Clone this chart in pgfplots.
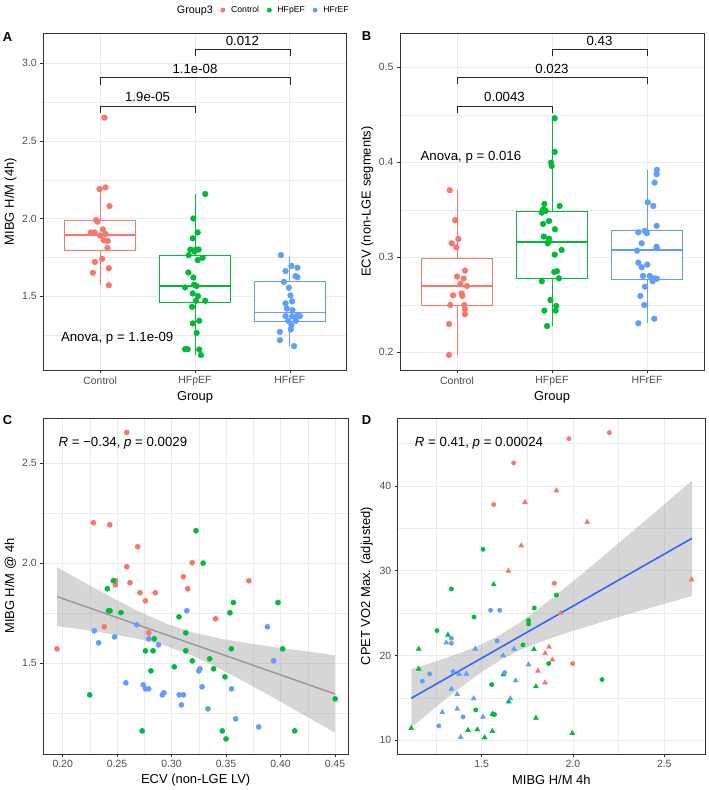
\documentclass[border=0pt]{standalone}
\usepackage{pgfplots}
\pgfplotsset{compat=1.18}
\usepgfplotslibrary{statistics}
\usepackage{fontspec}
\setmainfont{Liberation Sans}
\definecolor{cR}{HTML}{F8766D}
\definecolor{cG}{HTML}{00BA38}
\definecolor{cB}{HTML}{619CFF}
\definecolor{gridc}{HTML}{EBEBEB}
\definecolor{frame}{HTML}{333333}
\definecolor{ticklab}{HTML}{4D4D4D}
\definecolor{lineD}{HTML}{3366FF}
\definecolor{bandc}{HTML}{999999}
\tikzset{ann/.style={font=\fontsize{13.3}{15}\selectfont}}
\pgfplotsset{
 gg/.style={
  scale only axis,
  axis line style={frame, line width=0.6pt},
  every tick/.style={frame, line width=0.5pt},
  major tick length=3bp,
  minor tick length=0pt,
  tick align=outside,
  xtick pos=bottom, ytick pos=left,
  grid=both,
  major grid style={gridc, line width=0.7pt},
  minor grid style={gridc, line width=0.35pt},
  ticklabel style={font=\fontsize{10.5}{12}\selectfont, text=ticklab},
  every axis y label/.style={at={(axis description cs:-0.108,0.5)}, rotate=90, anchor=center, font=\fontsize{13}{15}\selectfont},
  every axis x label/.style={at={(axis description cs:0.5,-0.08)}, anchor=center, font=\fontsize{13}{15}\selectfont},
  /pgf/number format/assume math mode=true,
 },
 bx/.style={fill=white, line width=0.8pt, boxplot/draw direction=y, boxplot/box extend=0.75, boxplot/whisker extend=0,
   boxplot/every median/.style={line width=1.6pt}},
 pA/.style={only marks, mark=*, mark size=2.9pt, color=#1},
 pC/.style={only marks, mark=*, mark size=2.6pt, color=#1},
 pDc/.style={only marks, mark=*, mark size=2.2pt, color=#1},
 pDt/.style={only marks, mark=triangle*, mark size=2.9pt, color=#1},
 br/.style={black!85, line width=0.5pt},
}
\begin{document}
\begin{tikzpicture}
\useasboundingbox (0,0) rectangle (709bp,-790bp);
% ---------------- Panel A ----------------
\begin{axis}[gg, at={(43.3bp,-370bp)}, anchor=south west, width=303.4bp, height=337bp,
  xmin=-0.6, xmax=2.6, ymin=1.024, ymax=3.195,
  xtick={0,1,2}, xticklabels={Control,HFpEF,HFrEF},
  ytick={1.5,2,2.5,3}, yticklabels={1.5,2.0,2.5,3.0},
  minor ytick={1.25,1.75,2.25,2.75},
  xlabel={Group}, ylabel={MIBG H/M (4h)},
  legend style={at={(axis description cs:0.717,1.068)}, anchor=center, draw=none, fill=none,
    legend columns=-1, font=\fontsize{8.7}{10}\selectfont,
    /tikz/every odd column/.append style={column sep=4bp},
    /tikz/every even column/.append style={column sep=6bp}},
]
\addlegendimage{empty legend}\addlegendentry{\fontsize{10.8}{12}\selectfont Group3}
\addlegendimage{only marks, mark=*, mark size=2.2pt, color=cR}\addlegendentry{Control}
\addlegendimage{only marks, mark=*, mark size=2.2pt, color=cG}\addlegendentry{HFpEF}
\addlegendimage{only marks, mark=*, mark size=2.2pt, color=cB}\addlegendentry{HFrEF}
\addplot[bx, draw=cR, boxplot prepared={draw position=0, lower whisker=1.57, lower quartile=1.792, median=1.895, upper quartile=1.986, upper whisker=2.20}] coordinates {};
\addplot[bx, draw=cG, boxplot prepared={draw position=1, lower whisker=1.12, lower quartile=1.459, median=1.567, upper quartile=1.760, upper whisker=2.158}] coordinates {};
\addplot[bx, draw=cB, boxplot prepared={draw position=2, lower whisker=1.178, lower quartile=1.339, median=1.395, upper quartile=1.592, upper whisker=1.753}] coordinates {};
\addplot[pA=cR] coordinates {(0.045,2.65) (0.056,2.20) (-0.007,2.19) (0.098,2.08) (-0.028,1.98) (-0.042,1.99) (-0.098,1.91) (-0.059,1.91) (0.028,1.93) (0.056,1.90) (0.035,1.86) (0.08,1.855) (0.077,1.81) (0.021,1.74) (-0.056,1.72) (0.091,1.68) (-0.077,1.65) (0.091,1.57) (0.0,1.89)};
\addplot[pA=cG] coordinates {(1.108,2.158) (0.983,2.0) (1.028,1.91) (0.976,1.872) (0.951,1.80) (1.01,1.80) (1.038,1.80) (0.993,1.788) (0.934,1.764) (1.08,1.747) (1.028,1.732) (0.93,1.652) (0.983,1.62) (0.895,1.556) (0.99,1.573) (1.017,1.565) (0.976,1.517) (1.031,1.50) (1.01,1.47) (1.108,1.47) (0.969,1.431) (0.976,1.324) (1.045,1.341) (1.017,1.263) (0.895,1.158) (0.923,1.158) (1.045,1.156) (1.063,1.12)};
\addplot[pA=cB] coordinates {(1.906,1.764) (2.017,1.695) (2.08,1.683) (1.955,1.661) (2.059,1.629) (2.08,1.622) (1.937,1.592) (1.99,1.554) (2.007,1.504) (2.024,1.466) (1.955,1.453) (1.969,1.42) (2.028,1.41) (1.955,1.371) (2.024,1.371) (2.08,1.375) (2.105,1.371) (1.983,1.341) (2.063,1.341) (2.017,1.313) (2.01,1.285) (1.895,1.27) (1.895,1.216) (2.045,1.178)};
\addplot[br] coordinates {(0,2.682) (0,2.725) (1,2.725) (1,2.682)};
\addplot[br] coordinates {(0,2.862) (0,2.908) (2,2.908) (2,2.862)};
\addplot[br] coordinates {(1,3.047) (1,3.092) (2,3.092) (2,3.047)};
\node[ann] at (axis cs:0.5,2.785) {1.9e-05};
\node[ann] at (axis cs:1,2.962) {1.1e-08};
\node[ann] at (axis cs:1.5,3.144) {0.012};
\node[ann, anchor=west] at (axis cs:-0.45,1.227) {Anova, p = 1.1e-09};
\end{axis}
% ---------------- Panel B ----------------
\begin{axis}[gg, at={(400bp,-370bp)}, anchor=south west, width=304bp, height=337bp,
  xmin=-0.6, xmax=2.6, ymin=0.1814, ymax=0.536,
  xtick={0,1,2}, xticklabels={Control,HFpEF,HFrEF},
  ytick={0.2,0.3,0.4,0.5}, yticklabels={0.2,0.3,0.4,0.5},
  minor ytick={0.25,0.35,0.45},
  xlabel={Group}, ylabel={ECV (non-LGE segments)},
]
\addplot[bx, draw=cR, boxplot prepared={draw position=0, lower whisker=0.1972, lower quartile=0.2498, median=0.270, upper quartile=0.2986, upper whisker=0.3705}] coordinates {};
\addplot[bx, draw=cG, boxplot prepared={draw position=1, lower whisker=0.2277, lower quartile=0.2782, median=0.3161, upper quartile=0.3488, upper whisker=0.4463}] coordinates {};
\addplot[bx, draw=cB, boxplot prepared={draw position=2, lower whisker=0.2305, lower quartile=0.2772, median=0.3074, upper quartile=0.328, upper whisker=0.392}] coordinates {};
\addplot[pA=cR] coordinates {(-0.077,0.3705) (-0.021,0.339) (-0.056,0.3147) (0.014,0.3193) (-0.007,0.3105) (0.084,0.286) (0.0,0.2797) (0.07,0.2775) (0.035,0.272) (0.105,0.2698) (-0.042,0.26) (0.049,0.262) (0.056,0.2593) (-0.07,0.2498) (0.077,0.2498) (0.084,0.2453) (0.084,0.24) (-0.084,0.2298) (-0.084,0.1972)};
\addplot[pA=cG] coordinates {(1.028,0.4463) (1.028,0.4109) (0.99,0.3996) (0.997,0.3961) (0.92,0.3561) (1.08,0.354) (0.909,0.3505) (0.934,0.3488) (0.892,0.347) (0.969,0.3382) (0.906,0.3351) (1.031,0.3295) (0.913,0.3218) (0.969,0.3196) (0.962,0.3168) (0.955,0.3147) (1.101,0.3077) (1.028,0.3028) (1.024,0.2846) (1.052,0.2853) (1.073,0.2779) (0.892,0.2747) (0.983,0.2551) (1.045,0.2488) (1.038,0.2439) (0.92,0.2439) (0.948,0.2277)};
\addplot[pA=cB] coordinates {(2.105,0.392) (2.101,0.3874) (2.08,0.3786) (2.007,0.3579) (2.066,0.354) (2.101,0.333) (1.909,0.3263) (1.976,0.3277) (2.0,0.3253) (1.944,0.3147) (1.895,0.307) (2.101,0.3112) (2.101,0.3095) (1.909,0.2944) (1.944,0.2895) (2.003,0.2923) (1.958,0.2804) (2.028,0.2804) (2.077,0.2779) (2.105,0.2775) (2.059,0.2747) (1.979,0.2691) (1.93,0.2593) (1.972,0.2498) (2.077,0.2354) (1.909,0.2305)};
\addplot[br] coordinates {(0,0.4516) (0,0.459) (1,0.459) (1,0.4516)};
\addplot[br] coordinates {(0,0.482) (0,0.489) (2,0.489) (2,0.482)};
\addplot[br] coordinates {(1,0.512) (1,0.519) (2,0.519) (2,0.512)};
\node[ann] at (axis cs:0.5,0.4684) {0.0043};
\node[ann] at (axis cs:1,0.4982) {0.023};
\node[ann] at (axis cs:1.5,0.528) {0.43};
\node[ann, anchor=west] at (axis cs:-0.42,0.405) {Anova, p = 0.016};
\end{axis}
% ---------------- Panel C ----------------
\begin{axis}[gg, at={(43.3bp,-754bp)}, anchor=south west, width=304.7bp, height=335.7bp,
  xmin=0.1822, xmax=0.462, ymin=1.0465, ymax=2.7235,
  xtick={0.2,0.25,0.3,0.35,0.4,0.45}, xticklabels={0.20,0.25,0.30,0.35,0.40,0.45},
  minor xtick={0.225,0.275,0.325,0.375,0.425},
  ytick={1.5,2,2.5}, yticklabels={1.5,2.0,2.5},
  minor ytick={1.25,1.75,2.25},
  xlabel={ECV (non-LGE LV)}, ylabel={MIBG H/M @ 4h},
  every axis x label/.style={at={(axis description cs:0.5,-0.077)}, anchor=center, font=\fontsize{13}{15}\selectfont},
]
\addplot[pC=cR] coordinates {(0.2588,2.653) (0.2282,2.202) (0.2432,2.192) (0.2689,2.082) (0.2588,1.982) (0.319,2.002) (0.3108,1.932) (0.2484,1.912) (0.2484,1.892) (0.2618,1.902) (0.271,1.852) (0.285,1.852) (0.3148,1.872) (0.276,1.812) (0.371,1.912) (0.3404,1.722) (0.2382,1.682) (0.279,1.652) (0.1948,1.572)};
\addplot[pC=cG] coordinates {(0.3224,2.162) (0.329,2.0) (0.2465,1.912) (0.241,1.872) (0.3567,1.803) (0.3977,1.803) (0.242,1.762) (0.2435,1.762) (0.2535,1.753) (0.3536,1.752) (0.3068,1.732) (0.313,1.652) (0.284,1.622) (0.3548,1.572) (0.402,1.572) (0.276,1.562) (0.283,1.562) (0.313,1.562) (0.335,1.522) (0.319,1.512) (0.3025,1.482) (0.3386,1.472) (0.281,1.462) (0.349,1.432) (0.2248,1.342) (0.4503,1.322) (0.273,1.162) (0.3466,1.162) (0.413,1.162) (0.35,1.122)};
\addplot[pC=cB] coordinates {(0.314,1.762) (0.268,1.692) (0.388,1.682) (0.229,1.662) (0.2477,1.632) (0.279,1.622) (0.233,1.602) (0.288,1.592) (0.3937,1.512) (0.326,1.472) (0.325,1.462) (0.258,1.402) (0.274,1.392) (0.276,1.372) (0.279,1.372) (0.328,1.382) (0.355,1.372) (0.2915,1.342) (0.293,1.352) (0.307,1.342) (0.311,1.342) (0.309,1.292) (0.3334,1.272) (0.3588,1.222) (0.380,1.182)};
\addplot[draw=none, fill=bandc, fill opacity=0.4] coordinates {(0.1948,1.980) (0.22,1.903) (0.245,1.829) (0.27,1.758) (0.295,1.698) (0.32,1.653) (0.345,1.623) (0.37,1.600) (0.395,1.580) (0.42,1.562) (0.45,1.540) (0.45,1.153) (0.42,1.246) (0.395,1.323) (0.37,1.398) (0.345,1.470) (0.32,1.536) (0.295,1.586) (0.27,1.621) (0.245,1.646) (0.22,1.667) (0.1948,1.686)} -- cycle;
\addplot[black!40, line width=1.5pt] coordinates {(0.1948,1.833) (0.45,1.3466)};
\node[ann, anchor=west] at (axis cs:0.193,2.60) {\textit{R} = −0.34, \textit{p} = 0.0029};
\end{axis}
% ---------------- Panel D ----------------
\begin{axis}[gg, at={(397.7bp,-754bp)}, anchor=south west, width=307.3bp, height=335.7bp,
  xmin=1.04, xmax=2.723, ymin=8.38, ymax=47.98,
  xtick={1.5,2,2.5}, xticklabels={1.5,2.0,2.5},
  minor xtick={1.25,1.75,2.25},
  ytick={10,20,30,40}, minor ytick={15,25,35,45},
  xlabel={MIBG H/M 4h}, ylabel={CPET VO2 Max. (adjusted)},
  every axis x label/.style={at={(axis description cs:0.5,-0.077)}, anchor=center, font=\fontsize{13}{15}\selectfont},
  every axis y label/.style={at={(axis description cs:-0.101,0.5)}, rotate=90, anchor=center, font=\fontsize{13}{15}\selectfont},
]
\addplot[pDc=cR] coordinates {(1.978,45.58) (2.199,46.29) (1.675,42.71) (1.566,37.80) (1.898,28.52) (1.998,19.04)};
\addplot[pDt=cR] coordinates {(1.909,39.45) (1.737,38.07) (2.078,35.75) (1.717,32.96) (1.646,29.97) (2.650,28.95) (1.932,24.98) (1.869,21.0) (1.847,20.26) (1.887,19.51) (1.808,18.18) (1.847,16.80)};
\addplot[pDc=cG] coordinates {(1.507,32.53) (1.334,27.85) (1.458,24.55) (1.255,22.94) (1.788,25.6) (1.909,27.12) (1.757,24.12) (1.757,23.73) (1.726,21.25) (1.867,19.05) (2.159,17.16) (1.555,16.57) (1.467,13.58) (1.562,13.08) (1.57,13.04)};
\addplot[pDt=cG] coordinates {(1.566,28.38) (1.315,22.43) (1.155,20.78) (1.155,18.42) (1.786,20.74) (1.618,17.75) (1.797,16.34) (1.648,14.56) (1.56,13.11) (1.797,12.64) (1.114,11.43) (1.425,11.19) (1.476,11.26) (1.558,11.07) (1.516,10.32) (1.996,10.84)};
\addplot[pDc=cB] coordinates {(1.549,25.34) (1.599,25.34) (1.334,22.04) (1.334,21.45) (1.585,21.72) (1.626,17.98) (1.175,16.97) (1.215,17.83) (1.343,18.1) (1.398,12.76) (1.265,11.7)};
\addplot[pDt=cB] coordinates {(1.306,21.52) (1.465,20.78) (1.677,20.78) (1.617,19.99) (1.757,18.93) (1.376,17.83) (1.416,17.83) (1.334,16.06) (1.366,15.43) (1.686,17.04) (1.456,14.92) (1.657,14.92) (1.366,13.71) (1.284,13.31) (1.507,12.76) (1.385,10.37)};
\addplot[draw=none, fill=bandc, fill opacity=0.4] coordinates {(1.1145,18.40) (1.2,18.97) (1.3,19.68) (1.4,20.44) (1.5,21.33) (1.6,22.42) (1.7,23.77) (1.8,25.32) (1.9,27.00) (2.0,28.75) (2.1,30.53) (2.2,32.34) (2.3,34.17) (2.4,35.99) (2.5,37.83) (2.652,40.63) (2.652,27.03) (2.5,26.09) (2.4,25.47) (2.3,24.86) (2.2,24.22) (2.1,23.57) (2.0,22.91) (1.9,22.20) (1.8,21.42) (1.7,20.53) (1.6,19.42) (1.5,18.05) (1.4,16.48) (1.3,14.80) (1.2,13.05) (1.1145,11.52)} -- cycle;
\addplot[lineD, line width=1.6pt] coordinates {(1.1145,14.96) (2.652,33.83)};
\node[ann, anchor=west] at (axis cs:1.115,45.04) {\textit{R} = 0.41, \textit{p} = 0.00024};
\end{axis}
% panel tags
\node[font=\bfseries\fontsize{13}{15}\selectfont] at (7.5bp,-37.5bp) {A};
\node[font=\bfseries\fontsize{13}{15}\selectfont] at (366.5bp,-36.5bp) {B};
\node[font=\bfseries\fontsize{13}{15}\selectfont] at (7.5bp,-420.5bp) {C};
\node[font=\bfseries\fontsize{13}{15}\selectfont] at (366.5bp,-420bp) {D};
\end{tikzpicture}
\end{document}
